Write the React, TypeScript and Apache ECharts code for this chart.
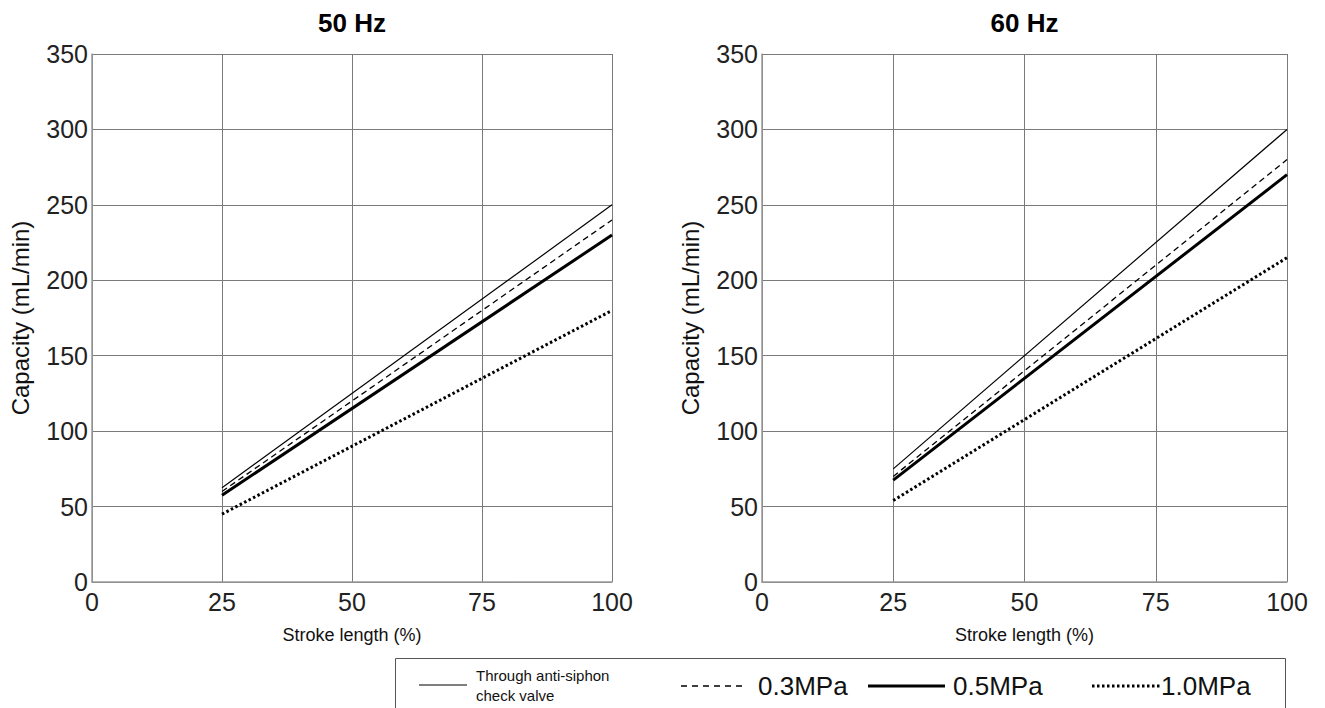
import React, { useEffect, useRef } from "react";
import * as echarts from "echarts";

const strokeLength = [25, 100];
const xTicks = [0, 25, 50, 75, 100];
const yTicks = [0, 50, 100, 150, 200, 250, 300, 350];

const hz50Through = [62.5, 250];
const hz50Mpa03 = [60, 240];
const hz50Mpa05 = [57.5, 230];
const hz50Mpa10 = [45, 180];

const hz60Through = [75, 300];
const hz60Mpa03 = [70, 280];
const hz60Mpa05 = [67.5, 270];
const hz60Mpa10 = [54, 215];

const panelTitles = ["50 Hz", "60 Hz"];
const legendNames = ["Through anti-siphon\ncheck valve", "0.3MPa", "0.5MPa", "1.0MPa"];

const FONT = "Liberation Sans, Arial, sans-serif";

const lineStyles = [
  { width: 1.2, type: "solid" as any },
  { width: 1.3, type: [6, 4] as any },
  { width: 3, type: "solid" as any },
  { width: 3, type: [2.5, 2.5] as any },
];

export default function App() {
  const ref = useRef<HTMLDivElement>(null);
  useEffect(() => {
    if (!ref.current) return;
    const chart = echarts.init(ref.current, undefined, { renderer: "svg" });
    const grids = [
      { left: 92, top: 54, width: 520, height: 528 },
      { left: 762, top: 54, width: 525, height: 528 },
    ];
    const xAxis = grids.map((_, i) => ({
      type: "value",
      gridIndex: i,
      min: xTicks[0],
      max: xTicks[xTicks.length - 1],
      interval: 25,
      name: "Stroke length (%)",
      nameLocation: "middle",
      nameGap: 44,
      nameTextStyle: { fontFamily: FONT, fontSize: 18, color: "#111" },
      axisLine: { show: true, lineStyle: { color: "#999", width: 1.5 } },
      axisTick: { show: false },
      axisLabel: { fontFamily: FONT, fontSize: 25, color: "#222", margin: 7 },
      splitLine: { show: true, lineStyle: { color: "#7a7a7a", width: 1 } },
    }));
    const yAxis = grids.map((_, i) => ({
      type: "value",
      gridIndex: i,
      min: yTicks[0],
      max: yTicks[yTicks.length - 1],
      interval: 50,
      name: "Capacity (mL/min)",
      nameLocation: "middle",
      nameGap: 60,
      nameTextStyle: { fontFamily: FONT, fontSize: 24, color: "#111" },
      axisLine: { show: true, lineStyle: { color: "#999", width: 1.5 } },
      axisTick: { show: false },
      axisLabel: { fontFamily: FONT, fontSize: 25, color: "#222", margin: 4 },
      splitLine: { show: true, lineStyle: { color: "#7a7a7a", width: 1 } },
    }));
    const sets = [
      [hz50Through, hz50Mpa03, hz50Mpa05, hz50Mpa10],
      [hz60Through, hz60Mpa03, hz60Mpa05, hz60Mpa10],
    ];
    const series: any[] = [];
    sets.forEach((set, gi) => {
      set.forEach((vals, si) => {
        series.push({
          type: "line",
          name: legendNames[si],
          xAxisIndex: gi,
          yAxisIndex: gi,
          data: strokeLength.map((x, k) => [x, vals[k]]),
          showSymbol: false,
          symbol: "none",
          lineStyle: { color: "#000", width: lineStyles[si].width, type: lineStyles[si].type },
        });
      });
    });

    const legendY = 686;
    const graphic: any[] = [
      ...panelTitles.map((t, i) => ({
        type: "text",
        x: grids[i].left + grids[i].width / 2,
        y: 23,
        style: { text: t, font: `bold 26px ${FONT}`, fill: "#000", textAlign: "center", textVerticalAlign: "middle" },
      })),
      { type: "rect", shape: { x: 395.5, y: 658.5, width: 890, height: 60 }, style: { fill: "none", stroke: "#555", lineWidth: 1 } },
      { type: "line", shape: { x1: 419, y1: legendY - 1, x2: 467, y2: legendY - 1 }, style: { stroke: "#000", lineWidth: 1.2 } },
      { type: "text", x: 476, y: legendY - 1, style: { text: legendNames[0], font: `15px ${FONT}`, fill: "#111", lineHeight: 20, textVerticalAlign: "middle" } },
      { type: "line", shape: { x1: 681, y1: legendY, x2: 745, y2: legendY }, style: { stroke: "#000", lineWidth: 1.3, lineDash: [6, 5] } },
      { type: "text", x: 758, y: legendY, style: { text: legendNames[1], font: `26px ${FONT}`, fill: "#111", textVerticalAlign: "middle" } },
      { type: "line", shape: { x1: 868, y1: legendY, x2: 945, y2: legendY }, style: { stroke: "#000", lineWidth: 3 } },
      { type: "text", x: 953, y: legendY, style: { text: legendNames[2], font: `26px ${FONT}`, fill: "#111", textVerticalAlign: "middle" } },
      { type: "line", shape: { x1: 1092, y1: legendY, x2: 1160, y2: legendY }, style: { stroke: "#000", lineWidth: 3, lineDash: [2.5, 2.5] } },
      { type: "text", x: 1161, y: legendY, style: { text: legendNames[3], font: `26px ${FONT}`, fill: "#111", textVerticalAlign: "middle" } },
    ];

    chart.setOption({
      animation: false,
      backgroundColor: "#fff",
      grid: grids,
      xAxis,
      yAxis,
      series,
      graphic,
    });
    return () => chart.dispose();
  }, []);
  return (
    <div
      ref={ref}
      style={{ position: "fixed", left: 0, top: 0, width: 1325, height: 708 }}
    />
  );
}
